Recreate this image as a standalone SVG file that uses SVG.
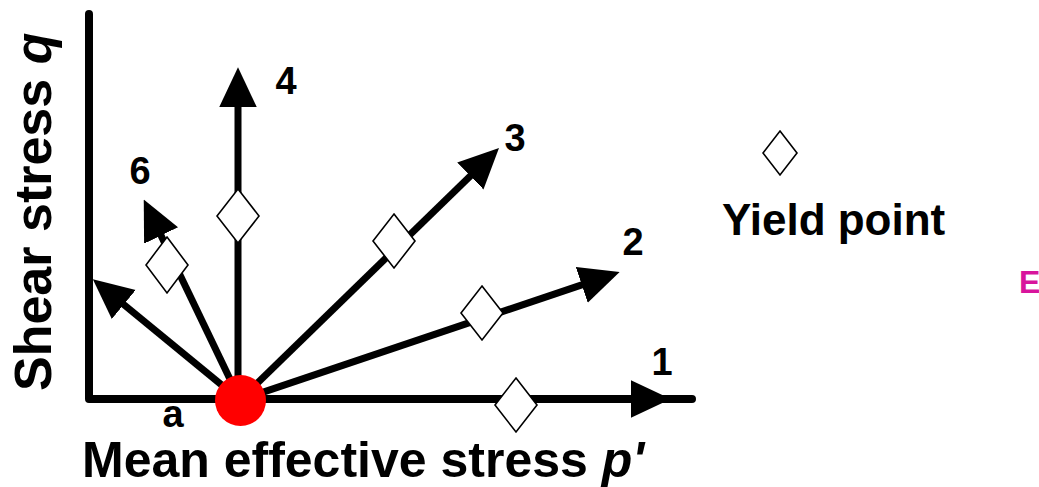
<svg xmlns="http://www.w3.org/2000/svg" width="1039" height="487" viewBox="0 0 1039 487">
<style>
.t{font-family:"Liberation Sans",Arial,sans-serif;font-weight:bold;fill:#000}
.lab{font-size:38px;text-anchor:middle}
.ax{font-size:50px}
.path{stroke:#000;stroke-width:7;fill:none;marker-end:url(#ah)}
.dia{fill:#fff;stroke:#000;stroke-width:1.6}
</style>
<defs>
<marker id="ah" markerUnits="userSpaceOnUse" markerWidth="40" markerHeight="40" viewBox="0 0 34 32" refX="18" refY="16" orient="auto">
<path d="M0,0 L34,16 L0,32 z" fill="#000"/>
</marker>
</defs>
<g id="axes">
<path d="M89,14 L89,399 L692,399" fill="none" stroke="#000" stroke-width="8" stroke-linecap="round" stroke-linejoin="round"/>
</g>
<g id="connectors">
<line class="path" x1="240" y1="399" x2="652" y2="399"/>
<line class="path" x1="240" y1="400" x2="601.8" y2="278.1"/>
<line class="path" x1="240" y1="400" x2="485.5" y2="161.2"/>
<line class="path" x1="238" y1="400" x2="238" y2="86"/>
<line class="path" x1="240" y1="400" x2="151.9" y2="216.4"/>
<line class="path" x1="240" y1="400" x2="107.4" y2="291.1"/>
</g>
<g id="origin">
<circle cx="240.5" cy="400.5" r="25.5" fill="#FF0000"/>
</g>
<g id="yield-points">
<polygon class="dia" points="516,378 537,405 516,432 495,405"/>
<polygon class="dia" points="482,286 503,313 482,340 461,313"/>
<polygon class="dia" points="394,214 415,241 394,268 373,241"/>
<polygon class="dia" points="238,189 259,216 238,243 217,216"/>
<polygon class="dia" points="167,237 188,265 167,293 146,265"/>
</g>
<g id="labels">
<text class="t lab" x="662" y="375">1</text>
<text class="t lab" x="633" y="255">2</text>
<text class="t lab" x="515" y="151">3</text>
<text class="t lab" x="286" y="94">4</text>
<text class="t lab" x="140" y="184">6</text>
<text class="t lab" x="173" y="427">a</text>
</g>
<g id="legend">
<polygon class="dia" points="780,131 797,153 780,175 763,153"/>
<text class="t" x="722" y="235" font-size="44">Yield point</text>
</g>
<g id="axis-titles">
<text class="t ax" x="82" y="477">Mean effective stress <tspan font-style="italic">p'</tspan></text>
<text class="t" font-size="52" transform="translate(51,391) rotate(-90)" x="0" y="0">Shear stress <tspan font-style="italic">q</tspan></text>
</g>
<text class="t" x="1019" y="293" font-size="32" fill="#D8149C" style="fill:#D8149C">E</text>
</svg>
